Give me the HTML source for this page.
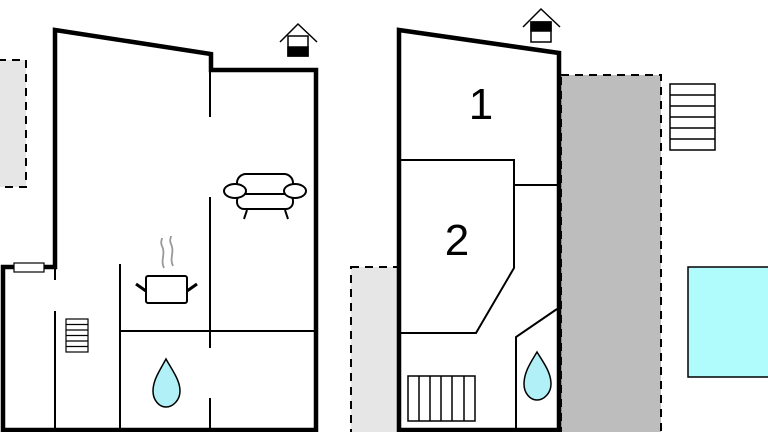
<!DOCTYPE html>
<html><head><style>html,body{margin:0;padding:0;background:#fff;}svg{display:block;}</style></head>
<body>
<svg width="768" height="432" viewBox="0 0 768 432" xmlns="http://www.w3.org/2000/svg">
<!-- background shaded areas -->
<rect x="-2" y="60" width="28" height="127" fill="#e6e6e6" stroke="#000" stroke-width="2" stroke-dasharray="8,6"/>
<rect x="351" y="267" width="48" height="170" fill="#e6e6e6" stroke="#000" stroke-width="2" stroke-dasharray="8,6"/>
<rect x="561" y="75" width="100" height="360" fill="#bdbdbd" stroke="#000" stroke-width="2" stroke-dasharray="8,6"/>
<rect x="688" y="267" width="84" height="110" fill="#b0fbfc" stroke="#000" stroke-width="1.5"/>
<!-- stairs right outside -->
<g fill="#fff" stroke="#000" stroke-width="1.5">
<rect x="670" y="84" width="45" height="66"/>
<line x1="670" y1="95" x2="715" y2="95"/><line x1="670" y1="106" x2="715" y2="106"/><line x1="670" y1="117" x2="715" y2="117"/><line x1="670" y1="128" x2="715" y2="128"/><line x1="670" y1="139" x2="715" y2="139"/>
</g>
<!-- LEFT PLAN -->
<path d="M55,30 L211,54 L211,70 L316,70 L316,430 L3,430 L3,267 L55,267 Z" fill="#fff" stroke="#000" stroke-width="4.5" stroke-linejoin="miter"/>
<rect x="14" y="263" width="30" height="9" fill="#fff" stroke="#000" stroke-width="1.2"/>
<g stroke="#000" stroke-width="2">
<line x1="210" y1="70" x2="210" y2="117"/>
<line x1="210" y1="197" x2="210" y2="348"/>
<line x1="210" y1="398" x2="210" y2="430"/>
<line x1="55" y1="267" x2="55" y2="280"/>
<line x1="55" y1="311" x2="55" y2="430"/>
<line x1="120" y1="264" x2="120" y2="430"/>
<line x1="120" y1="331" x2="314" y2="331"/>
</g>
<g fill="#fff" stroke="#000" stroke-width="1.2">
<rect x="66" y="319" width="22" height="33"/>
<line x1="66" y1="324.5" x2="88" y2="324.5"/><line x1="66" y1="330" x2="88" y2="330"/><line x1="66" y1="335.5" x2="88" y2="335.5"/><line x1="66" y1="341" x2="88" y2="341"/><line x1="66" y1="346.5" x2="88" y2="346.5"/>
</g>
<!-- pot -->
<path d="M164,268 C160,260 166,254 162,246 C160,242 162,240 162,238" fill="none" stroke="#999" stroke-width="1.8"/>
<path d="M173,266 C169,258 175,252 171,244 C169,240 171,238 171,236" fill="none" stroke="#999" stroke-width="1.8"/>
<rect x="146" y="276" width="41" height="27" rx="2" fill="#fff" stroke="#000" stroke-width="2"/>
<line x1="136" y1="284" x2="146" y2="291" stroke="#000" stroke-width="3"/>
<line x1="187" y1="291" x2="197" y2="284" stroke="#000" stroke-width="3"/>
<!-- sofa -->
<g fill="#fff" stroke="#000" stroke-width="2">
<rect x="237" y="174" width="56" height="24" rx="9"/>
<rect x="237" y="194" width="56" height="15" rx="7"/>
<ellipse cx="235" cy="191" rx="11" ry="7"/>
<ellipse cx="295" cy="191" rx="11" ry="7"/>
<line x1="247" y1="210" x2="244" y2="219"/>
<line x1="285" y1="210" x2="288" y2="219"/>
</g>
<!-- drop left -->
<path d="M166,359 C160,370 153,380 153,391 C153,400 159,407 166,407 C173,407 180,400 180,391 C180,380 172,370 166,359 Z" fill="#b0f0f6" stroke="#000" stroke-width="1.5"/>
<!-- house icon left -->
<g stroke="#000" stroke-width="1.5" fill="none">
<polyline points="280,42 298,24 317,42"/>
<rect x="288" y="36" width="20" height="20" fill="#fff"/>
<rect x="288" y="47" width="20" height="9" fill="#000"/>
</g>
<!-- RIGHT PLAN -->
<path d="M399,30 L559,53 L559,430 L399,430 Z" fill="#fff" stroke="#000" stroke-width="4.5"/>
<g stroke="#000" stroke-width="2" fill="none">
<polyline points="399,160 514,160 514,268 476,333 399,333"/>
<line x1="514" y1="185" x2="557" y2="185"/>
<polyline points="557,309 516,337 516,430"/>
</g>
<g fill="#fff" stroke="#000" stroke-width="1.5">
<rect x="408" y="376" width="67" height="45"/>
<line x1="419" y1="376" x2="419" y2="421"/><line x1="430" y1="376" x2="430" y2="421"/><line x1="441" y1="376" x2="441" y2="421"/><line x1="452" y1="376" x2="452" y2="421"/><line x1="464" y1="376" x2="464" y2="421"/>
</g>
<path d="M537,352 C531,362 524,372 524,384 C524,393 530,400 537,400 C544,400 551,393 551,384 C551,372 543,362 537,352 Z" fill="#b0f0f6" stroke="#000" stroke-width="1.5"/>
<text x="481" y="119" font-family="Liberation Sans, sans-serif" font-size="44" text-anchor="middle" fill="#000">1</text>
<text x="457" y="255" font-family="Liberation Sans, sans-serif" font-size="44" text-anchor="middle" fill="#000">2</text>
<g stroke="#000" stroke-width="1.5" fill="none">
<polyline points="523,27 541,9 560,27"/>
<rect x="531" y="22" width="20" height="20" fill="#fff"/>
<rect x="531" y="22" width="20" height="9" fill="#000"/>
</g>
</svg>
</body></html>
